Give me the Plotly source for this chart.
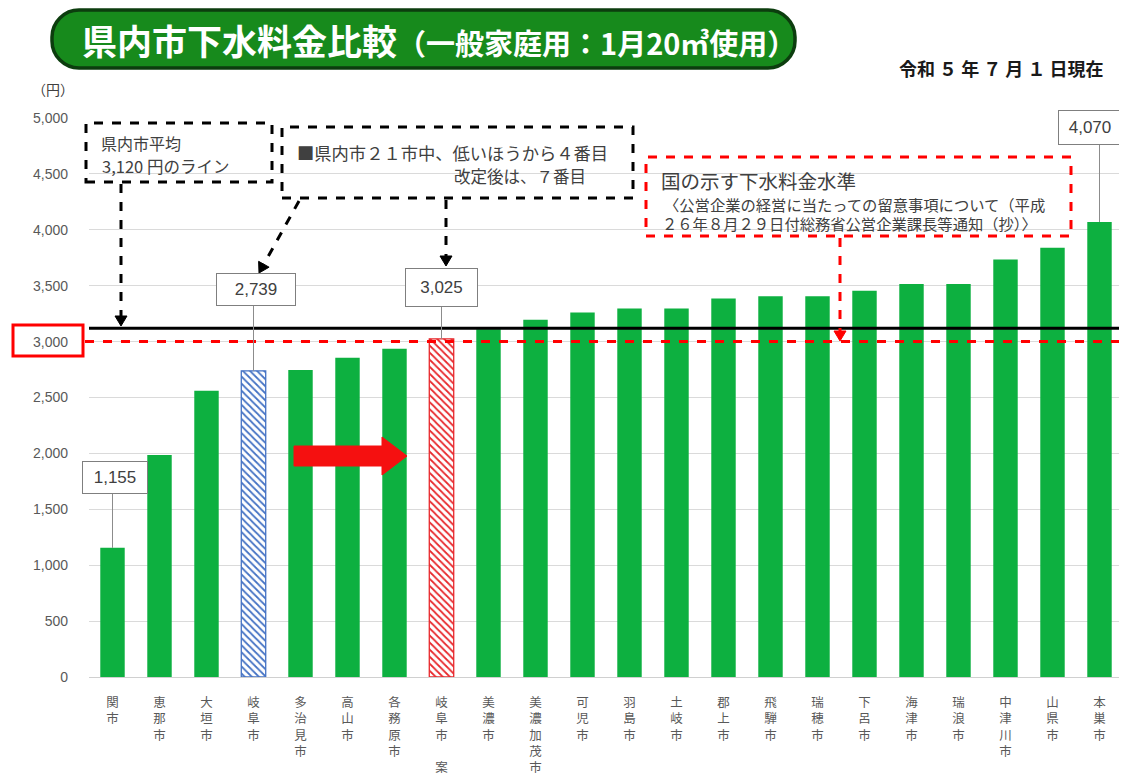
import math
import plotly.graph_objects as go

# ---------------- data ----------------
cities = ["関市", "恵那市", "大垣市", "岐阜市", "多治見市", "高山市", "各務原市", "岐阜市案",
          "美濃市", "美濃加茂市", "可児市", "羽島市", "土岐市", "郡上市", "飛騨市", "瑞穂市",
          "下呂市", "海津市", "瑞浪市", "中津川市", "山県市", "本巣市"]
fees = [1155, 1985, 2560, 2739, 2745, 2855, 2935, 3025,
        3110, 3195, 3260, 3295, 3295, 3385, 3405, 3405,
        3455, 3515, 3515, 3735, 3840, 4070]
tick_labels = ["関<br>市", "恵<br>那<br>市", "大<br>垣<br>市", "岐<br>阜<br>市", "多<br>治<br>見<br>市",
               "高<br>山<br>市", "各<br>務<br>原<br>市", "岐<br>阜<br>市<br> <br>案", "美<br>濃<br>市",
               "美<br>濃<br>加<br>茂<br>市", "可<br>児<br>市", "羽<br>島<br>市", "土<br>岐<br>市",
               "郡<br>上<br>市", "飛<br>騨<br>市", "瑞<br>穂<br>市", "下<br>呂<br>市", "海<br>津<br>市",
               "瑞<br>浪<br>市", "中<br>津<br>川<br>市", "山<br>県<br>市", "本<br>巣<br>市"]
labelled = {"関市": 1155, "岐阜市": 2739, "岐阜市案": 3025, "本巣市": 4070}
current_city = "岐阜市"
proposal_city = "岐阜市案"
avg_fee = 3120
national_level = 3000

# ---------------- geometry helpers (screen pixels -> paper) ----------------
OFF = 8                      # page body margin
W, H = 1127 - OFF, 779 - OFF
SX0, SX1, SY0, SY1 = 89, 1123, 118, 677   # plot area on screen
ML, MT = SX0 - OFF, SY0 - OFF
MR = W - (SX1 - OFF)
MB = H - (SY1 - OFF)
PW, PH = SX1 - SX0, SY1 - SY0


def px(x):
    return (x - SX0) / PW


def py(y):
    return (SY1 - y) / PH


def dy(y):
    return (SY1 - y) / PH * 5000


FONT = "Noto Sans CJK JP"
GREEN = "#0DB040"
BLUE = "#4472C4"
RED = "#FF0000"
PRED = "#E8282C"

idx_all = list(range(len(cities)))
i_cur = cities.index(current_city)
i_prop = cities.index(proposal_city)
normal = [i for i in idx_all if i not in (i_cur, i_prop)]

fig = go.Figure()
fig.add_trace(go.Bar(x=normal, y=[fees[i] for i in normal], width=0.52,
                     marker=dict(color=GREEN, line=dict(width=0)), hoverinfo="skip", showlegend=False))
for i, col in ((i_cur, BLUE), (i_prop, PRED)):
    fig.add_trace(go.Bar(x=[i], y=[fees[i]], width=0.52,
                         marker=dict(color="white", line=dict(color=col, width=1.3),
                                     pattern=dict(shape="\\", fgcolor=col, bgcolor="white", size=5,
                                                  solidity=0.35, fillmode="replace")),
                         hoverinfo="skip", showlegend=False))

shapes = []
annotations = []

# reference lines
shapes.append(dict(type="line", xref="paper", yref="y", x0=0, x1=px(1127), y0=avg_fee, y1=avg_fee,
                   line=dict(color="black", width=3)))
shapes.append(dict(type="line", xref="paper", yref="y", x0=px(85), x1=px(1127), y0=national_level,
                   y1=national_level, line=dict(color=RED, width=3, dash="dash")))
# red box around 3,000 tick
shapes.append(dict(type="rect", xref="paper", yref="paper", x0=px(13), x1=px(83), y0=py(356), y1=py(325),
                   line=dict(color=RED, width=3)))

# title pill
x0, x1, y0, y1, r = 52, 795, 10, 68, 27
k = 0.55 * r
pts = [
    f"M {px(x0 + r)},{py(y0)}",
    f"L {px(x1 - r)},{py(y0)}",
    f"C {px(x1 - r + k)},{py(y0)} {px(x1)},{py(y0 + r - k)} {px(x1)},{py(y0 + r)}",
    f"L {px(x1)},{py(y1 - r)}",
    f"C {px(x1)},{py(y1 - r + k)} {px(x1 - r + k)},{py(y1)} {px(x1 - r)},{py(y1)}",
    f"L {px(x0 + r)},{py(y1)}",
    f"C {px(x0 + r - k)},{py(y1)} {px(x0)},{py(y1 - r + k)} {px(x0)},{py(y1 - r)}",
    f"L {px(x0)},{py(y0 + r)}",
    f"C {px(x0)},{py(y0 + r - k)} {px(x0 + r - k)},{py(y0)} {px(x0 + r)},{py(y0)} Z",
]
shapes.append(dict(type="path", xref="paper", yref="paper", path=" ".join(pts),
                   fillcolor="#178A1C", line=dict(color="#0C3D0E", width=3.5)))
annotations.append(dict(xref="paper", yref="paper", x=px(80), y=py(39), xanchor="left", yanchor="middle",
                        showarrow=False,
                        text="<b><span style='font-size:35px'>県内市下水料金比較</span>"
                             "<span style='font-size:29px'>（一般家庭用：1月20㎥使用）</span></b>",
                        font=dict(family=FONT, color="white")))

# date
annotations.append(dict(xref="paper", yref="paper", x=px(1106), y=py(68), xanchor="right", yanchor="middle",
                        showarrow=False, text="<b>令和 ５ 年 ７ 月 １ 日現在</b>",
                        font=dict(family=FONT, size=18, color="#1a1a1a")))
# unit
annotations.append(dict(xref="paper", yref="paper", x=px(53), y=py(89), xanchor="center", yanchor="middle",
                        showarrow=False, text="（円）", font=dict(family=FONT, size=14, color="#404040")))


def dashed_rect(xa, ya, xb, yb, color):
    shapes.append(dict(type="rect", xref="paper", yref="paper", x0=px(xa), x1=px(xb), y0=py(yb), y1=py(ya),
                       line=dict(color=color, width=3, dash="dash"), fillcolor="rgba(255,255,255,0)"))


def dashed_arrow(xa, ya, xb, yb, color, head=10):
    ang = math.atan2(yb - ya, xb - xa)
    bx, by = xb - head * math.cos(ang), yb - head * math.sin(ang)
    shapes.append(dict(type="line", xref="paper", yref="paper", x0=px(xa), y0=py(ya), x1=px(bx), y1=py(by),
                       line=dict(color=color, width=3, dash="dash")))
    hw = head * 0.6
    nx, ny = -math.sin(ang), math.cos(ang)
    p1 = (bx + hw * nx, by + hw * ny)
    p2 = (bx - hw * nx, by - hw * ny)
    shapes.append(dict(type="path", xref="paper", yref="paper",
                       path=f"M {px(xb)},{py(yb)} L {px(p1[0])},{py(p1[1])} L {px(p2[0])},{py(p2[1])} Z",
                       fillcolor=color, line=dict(color=color, width=1)))


def text(x, y, s, size, color="#404040", anchor="left"):
    annotations.append(dict(xref="paper", yref="paper", x=px(x), y=py(y), xanchor=anchor, yanchor="middle",
                            showarrow=False, text=s, font=dict(family=FONT, size=size, color=color)))


# box 1 : average line
dashed_rect(86, 123, 272, 182, "black")
text(99, 143, "県内市平均", 16)
text(100, 166, "3,120 円のライン", 16.5)
dashed_arrow(121, 184, 121, 326, "black")

# box 2 : ranking
dashed_rect(282, 127, 633, 198, "black")
text(295, 153, "■県内市２１市中、低いほうから４番目", 17.3)
text(452, 176, "改定後は、７番目", 16.5)
dashed_arrow(299, 201, 259, 273, "black")
dashed_arrow(446, 200, 446, 266, "black")

# box 3 : national level
dashed_rect(646, 157, 1071, 236, RED)
text(659, 181, "国の示す下水料金水準", 19.5)
text(662, 204, "〈公営企業の経営に当たっての留意事項について（平成", 15.3)
text(660, 223, "２６年８月２９日付総務省公営企業課長等通知（抄）〉", 15.3)
dashed_arrow(840, 238, 840, 341, RED)

# value label boxes with leader lines
box_pos = {"関市": (115, 477, 64, 31), "岐阜市": (256, 289, 78, 31),
           "岐阜市案": (441, 287, 71, 37), "本巣市": (1090, 127, 62, 33)}
for c, v in labelled.items():
    i = cities.index(c)
    cx, cy, bw, bh = box_pos[c]
    shapes.append(dict(type="line", xref="x", yref="y", x0=i, x1=i, y0=v, y1=dy(cy + bh / 2),
                       line=dict(color="#8c8c8c", width=1)))
    annotations.append(dict(xref="paper", yref="paper", x=px(cx), y=py(cy), xanchor="center", yanchor="middle",
                            showarrow=False, text=f"{v:,}", width=bw, height=bh, borderpad=0,
                            bgcolor="white", bordercolor="#7f7f7f", borderwidth=1,
                            font=dict(family="Arial", size=17, color="#404040")))

# red block arrow
ax0, ax1, axh, ay = 294, 382, 407, 456
shapes.append(dict(type="path", xref="paper", yref="paper",
                   path=(f"M {px(ax0)},{py(ay - 10)} L {px(ax1)},{py(ay - 10)} L {px(ax1)},{py(ay - 19)} "
                         f"L {px(axh)},{py(ay)} L {px(ax1)},{py(ay + 19)} L {px(ax1)},{py(ay + 10)} "
                         f"L {px(ax0)},{py(ay + 10)} Z"),
                   fillcolor="#F51010", line=dict(color="#F51010", width=1)))

fig.update_layout(
    width=W, height=H,
    margin=dict(l=ML, r=MR, t=MT, b=MB),
    paper_bgcolor="white", plot_bgcolor="white",
    shapes=shapes, annotations=annotations,
    barmode="overlay",
    xaxis=dict(range=[-0.5, len(cities) - 0.5], tickmode="array", tickvals=idx_all,
               ticktext=tick_labels, tickangle=0, showgrid=False, showline=True, linecolor="#d0d0d0",
               ticks="", ticklabelstandoff=14, tickfont=dict(family=FONT, size=12.5, color="#595959")),
    yaxis=dict(range=[0, 5000], dtick=500, tickformat=",", showgrid=True, gridcolor="#dadada", gridwidth=1,
               zeroline=False, ticks="", ticklabelstandoff=20,
               tickfont=dict(family="Arial", size=14, color="#595959")),
    font=dict(family=FONT),
)

fig.write_html("out.html")
